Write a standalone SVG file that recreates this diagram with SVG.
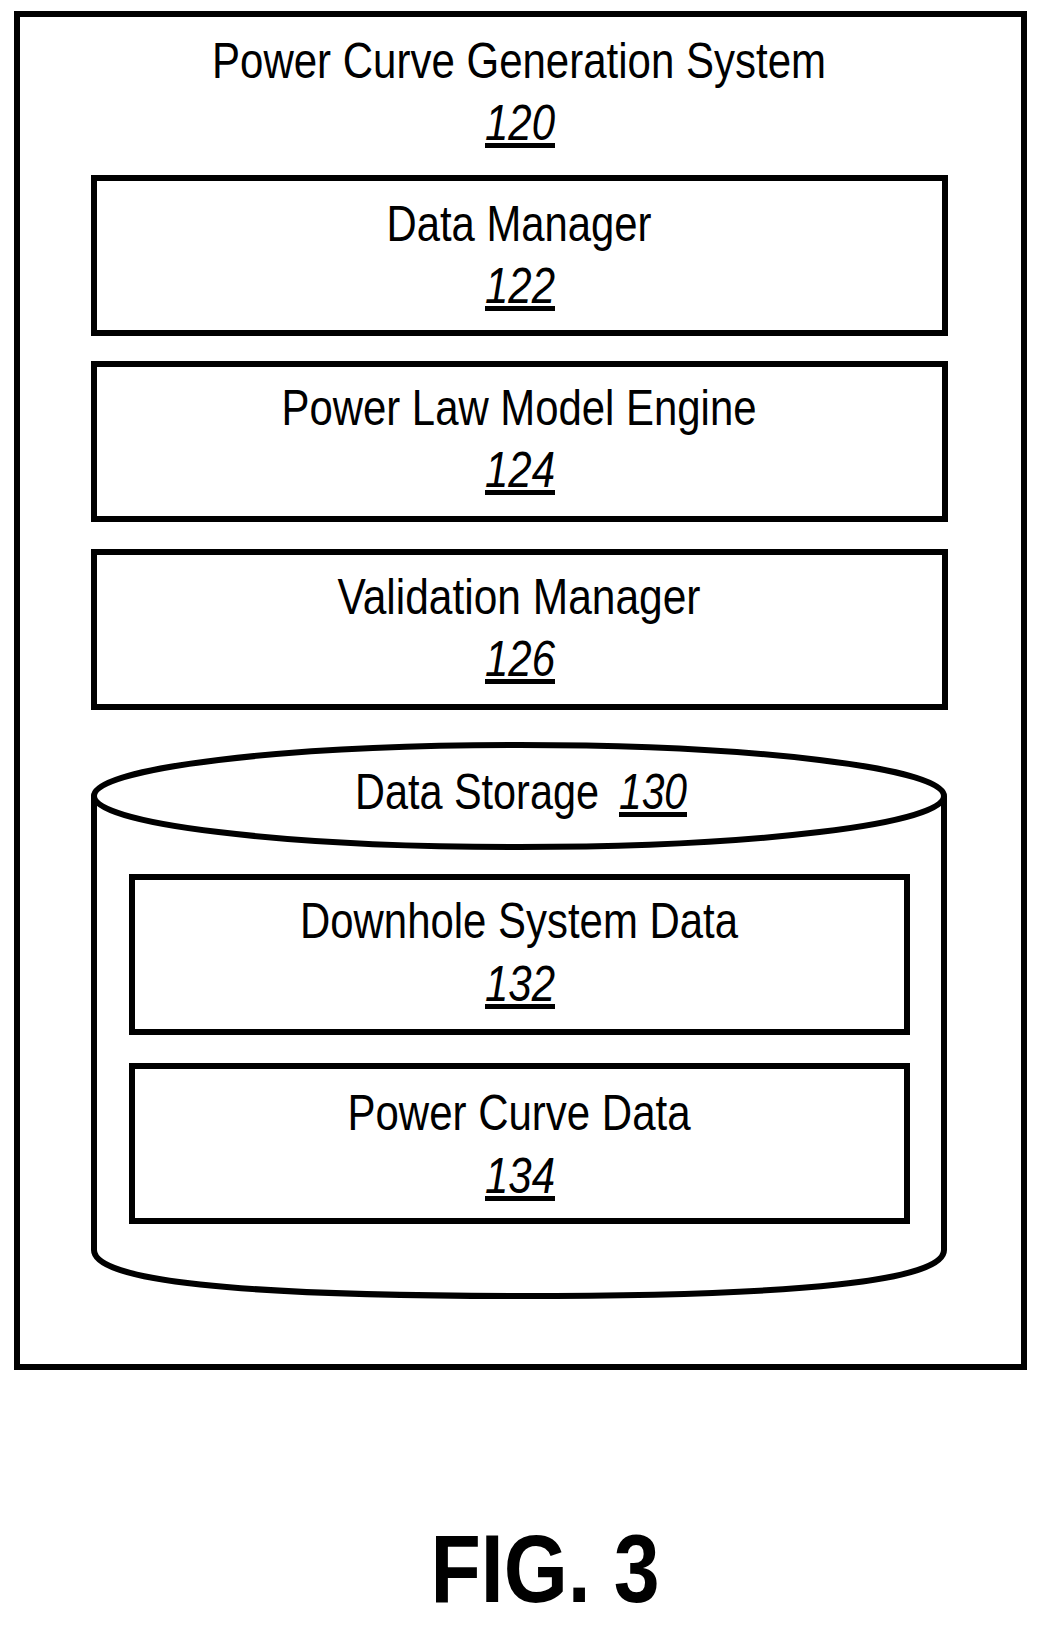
<svg xmlns="http://www.w3.org/2000/svg" width="1047" height="1626" viewBox="0 0 1047 1626">
<style>
.b{fill:#fff;stroke:#000;stroke-width:6}
text{font-family:"Liberation Sans",Arial,sans-serif;font-size:50px;text-anchor:middle;fill:#000}
.n{font-style:italic;text-decoration:underline}
</style>
<rect width="1047" height="1626" fill="#fff"/>
<g id="sys"><rect class="b" x="17" y="14" width="1007" height="1353"/>
<text x="519" y="78" textLength="614" lengthAdjust="spacingAndGlyphs">Power Curve Generation System</text>
<text class="n" x="520" y="140" textLength="70" lengthAdjust="spacingAndGlyphs">120</text></g>
<g id="dm"><rect class="b" x="94" y="178" width="851" height="155"/>
<text x="519" y="241" textLength="265" lengthAdjust="spacingAndGlyphs">Data Manager</text>
<text class="n" x="520" y="303" textLength="70" lengthAdjust="spacingAndGlyphs">122</text></g>
<g id="plme"><rect class="b" x="94" y="364" width="851" height="155"/>
<text x="519" y="425" textLength="475" lengthAdjust="spacingAndGlyphs">Power Law Model Engine</text>
<text class="n" x="520" y="487" textLength="70" lengthAdjust="spacingAndGlyphs">124</text></g>
<g id="vm"><rect class="b" x="94" y="552" width="851" height="155"/>
<text x="519" y="614" textLength="363" lengthAdjust="spacingAndGlyphs">Validation Manager</text>
<text class="n" x="520" y="676" textLength="70" lengthAdjust="spacingAndGlyphs">126</text></g>
<g id="ds">
<path class="b" d="M94,796 L94,1250 Q94,1296 519,1296 Q944,1296 944,1250 L944,796"/>
<ellipse class="b" cx="519" cy="796" rx="425" ry="51"/>
<text x="477" y="809" textLength="244" lengthAdjust="spacingAndGlyphs">Data Storage</text>
<text class="n" x="653" y="809" textLength="68" lengthAdjust="spacingAndGlyphs">130</text></g>
<g id="dsd"><rect class="b" x="132" y="877" width="775" height="155"/>
<text x="519" y="938" textLength="438" lengthAdjust="spacingAndGlyphs">Downhole System Data</text>
<text class="n" x="520" y="1001" textLength="70" lengthAdjust="spacingAndGlyphs">132</text></g>
<g id="pcd"><rect class="b" x="132" y="1066" width="775" height="155"/>
<text x="519" y="1130" textLength="343" lengthAdjust="spacingAndGlyphs">Power Curve Data</text>
<text class="n" x="520" y="1193" textLength="70" lengthAdjust="spacingAndGlyphs">134</text></g>
<g id="connectors"/>
<text x="545" y="1602" style="font-weight:bold;font-size:97px" textLength="229" lengthAdjust="spacingAndGlyphs">FIG. 3</text>
</svg>
